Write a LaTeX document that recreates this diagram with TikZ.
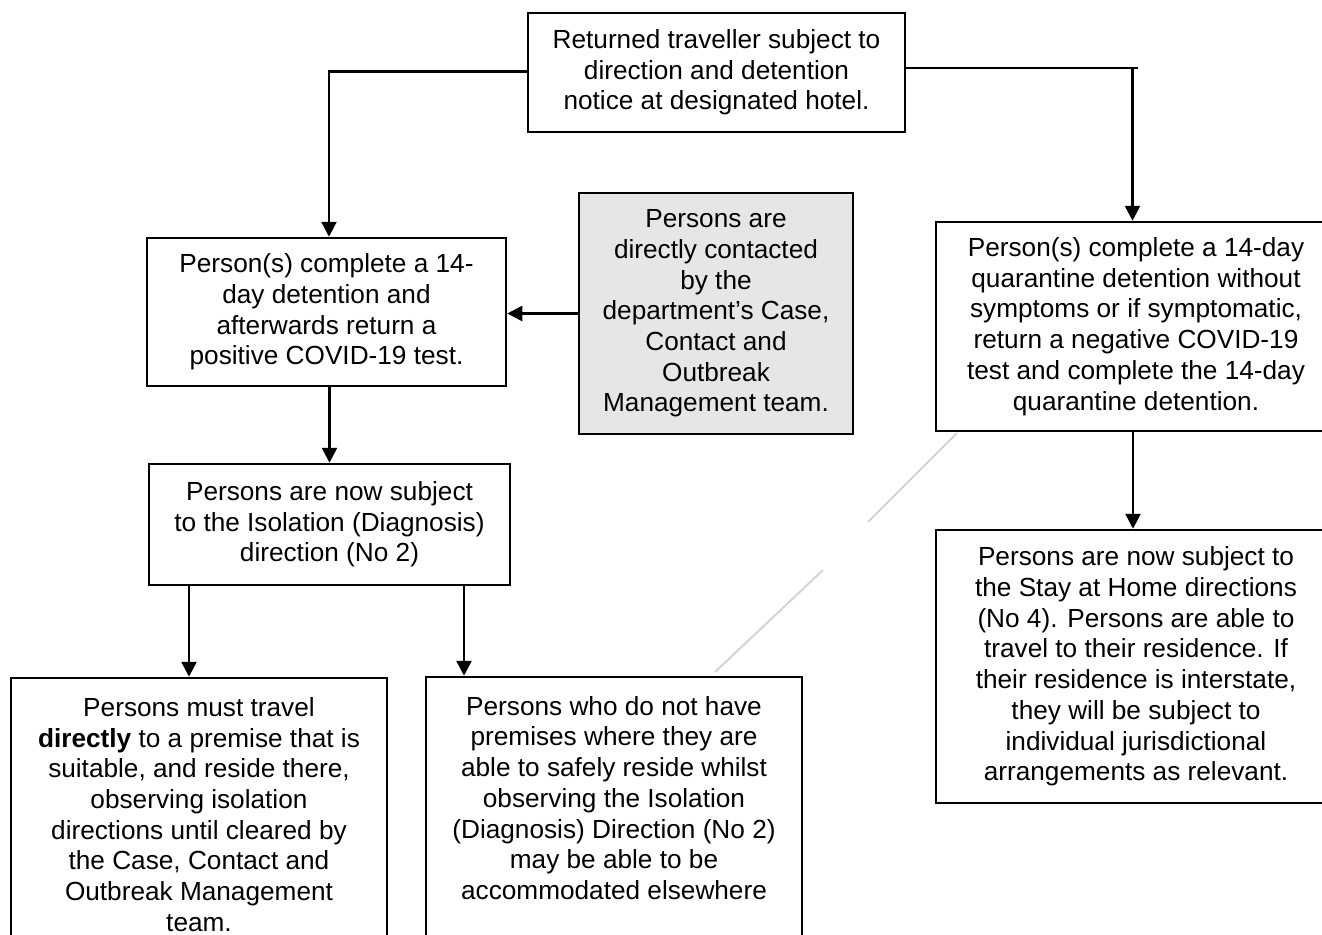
\documentclass[tikz,border=0pt]{standalone}
\usepackage{fontspec}
\setmainfont{Liberation Sans}
\usetikzlibrary{arrows.meta}
\definecolor{panelgrey}{HTML}{E6E6E6}
\definecolor{streak}{HTML}{D4D4D4}
\begin{document}
\begin{tikzpicture}[x=0.5pt,y=-0.5pt,
  box/.style={draw=black, line width=1.25pt, fill=white, rectangle, inner sep=0pt,
    align=center, font=\fontsize{13.1pt}{15.35pt}\selectfont},
  greybox/.style={box, fill=panelgrey},
  txt/.style={inner sep=0pt, align=center, font=\fontsize{13.1pt}{15.35pt}\selectfont},
  link/.style={draw=black, line width=1.25pt},
  arr/.style={link, -{Triangle[length=7.5pt,width=7.5pt]}}]
\useasboundingbox (0,0) rectangle (1322,934);
\clip (0,0) rectangle (1322,934);

% faint diagonal streak behind the boxes
\draw[streak, line width=1pt] (957,433) -- (868,522);
\draw[streak, line width=1pt] (823,570) -- (715,672);

% boxes
\node[box, minimum width=188.5pt, minimum height=59.5pt] (top) at (716.5,72.5)
  {Returned traveller subject to\\direction and detention\\notice at designated hotel.};
\node[box, minimum width=179.5pt, minimum height=74pt] (pos) at (326.5,312)
  {Person(s) complete a 14-\\day detention and\\afterwards return a\\positive COVID-19 test.};
\node[greybox, minimum width=137pt, minimum height=120.5pt] (team) at (716,313.5)
  {Persons are\\directly contacted\\by the\\department’s Case,\\Contact and\\Outbreak\\Management team.};
\node[box, minimum width=200pt, minimum height=104.5pt] (quar) at (1136,326.5)
  {Person(s) complete a 14-day\\quarantine detention without\\symptoms or if symptomatic,\\return a negative COVID-19\\test and complete the 14-day\\quarantine detention.};
\node[box, minimum width=180.5pt, minimum height=60.5pt] (iso) at (329.5,524.5)
  {Persons are now subject\\to the Isolation (Diagnosis)\\direction (No 2)};
\node[box, minimum width=188pt, minimum height=136.5pt] (home) at (199,814.5)
  {Persons must travel\\\textbf{directly} to a premise that is\\suitable, and reside there,\\observing isolation\\directions until cleared by\\the Case, Contact and\\Outbreak Management\\team.};
\node[box, minimum width=188pt, minimum height=141.5pt] (else) at (614,818.5) {};
\node[txt] (elsetext) at (614,798)
  {Persons who do not have\\premises where they are\\able to safely reside whilst\\observing the Isolation\\(Diagnosis) Direction (No 2)\\may be able to be\\accommodated elsewhere};
\node[box, minimum width=200pt, minimum height=136.5pt] (stay) at (1136,666.5)
  {Persons are now subject to\\the Stay at Home directions\\(No 4). Persons are able to\\travel to their residence. If\\their residence is interstate,\\they will be subject to\\individual jurisdictional\\arrangements as relevant.};

% connectors
\coordinate (lt) at ([yshift=0.4pt]top.west);
\coordinate (ld) at ([xshift=1.25pt]pos.north);
\draw[arr] (lt) -| (ld);

\coordinate (rt) at ([yshift=2.25pt]top.east);
\coordinate (rd) at ([xshift=-1.75pt]quar.north);
\coordinate (rc) at (rt -| rd);
\draw[link] (rt) -- ([xshift=2.5pt]rc);
\draw[arr] (rc) -- (rd);

\draw[arr] (team.west) -- (team.west -| pos.east);

\draw[arr] (iso.north |- pos.south) -- (iso.north);

\coordinate (e1) at ([xshift=-70.25pt]iso.south);
\coordinate (e2) at ([xshift=67.25pt]iso.south);
\draw[arr] (e1) -- (e1 |- home.north);
\draw[arr] (e2) -- (e2 |- else.north);

\coordinate (qd) at ([xshift=-1.5pt]quar.south);
\draw[arr] (qd) -- (qd |- stay.north);
\end{tikzpicture}
\end{document}
